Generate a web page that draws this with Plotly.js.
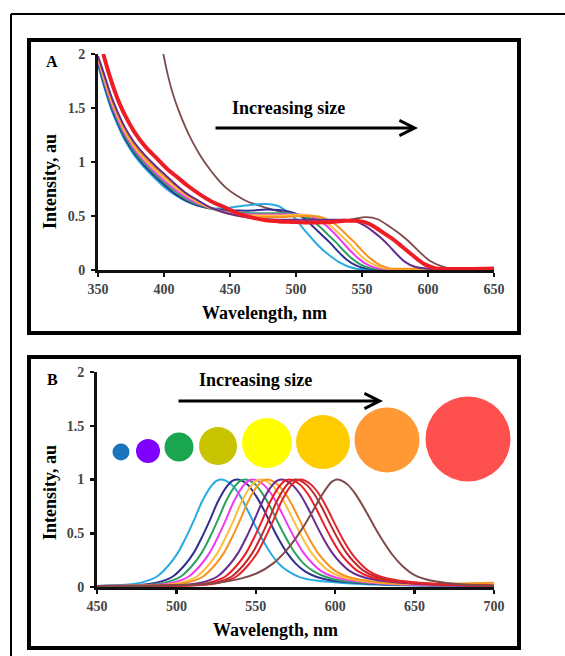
<!DOCTYPE html>
<html>
<head>
<meta charset="utf-8">
<script src="https://cdn.plot.ly/plotly-3.0.1.min.js"></script>
<style>html,body{margin:0;padding:0;background:#fff;}#chart{width:565px;height:656px;}</style>
</head>
<body>
<div id="chart"></div>
<script>
// ---------- Panel A: absorption spectra (wavelength nm, intensity au) ----------
const aCyanX = [350,355,360,365,370,377,385,393,401,409,417,425,435,445,457,467,477,487,494,500,505,510,515,520,526,533,540,547,560,650];
const aCyanY = [1.9,1.68,1.49,1.34,1.21,1.07,0.95,0.85,0.76,0.69,0.635,0.6,0.575,0.57,0.59,0.605,0.61,0.59,0.53,0.47,0.39,0.32,0.25,0.19,0.13,0.07,0.03,0.01,0.01,0.01];
const aNavyX = [350,355,360,365,370,377,385,393,401,409,417,425,435,445,457,467,477,487,495,502,508,514,520,526,532,538,545,553,565,650];
const aNavyY = [1.92,1.7,1.51,1.36,1.23,1.09,0.97,0.87,0.78,0.7,0.64,0.6,0.57,0.555,0.55,0.55,0.56,0.555,0.54,0.51,0.46,0.39,0.32,0.25,0.17,0.1,0.045,0.015,0.01,0.01];
const aGreenX = [350,355,360,365,370,377,385,393,401,409,417,425,435,445,457,467,477,487,497,505,512,518,524,530,536,542,549,557,570,650];
const aGreenY = [1.94,1.72,1.53,1.38,1.25,1.11,0.99,0.89,0.8,0.72,0.655,0.61,0.57,0.545,0.53,0.525,0.525,0.525,0.52,0.5,0.46,0.4,0.33,0.26,0.18,0.11,0.05,0.015,0.01,0.01];
const aMagentaX = [350,355,360,365,370,377,385,393,401,409,417,425,435,445,457,467,477,487,497,507,515,522,529,535,541,547,554,562,575,650];
const aMagentaY = [1.95,1.74,1.55,1.4,1.27,1.13,1.01,0.91,0.82,0.74,0.67,0.62,0.575,0.54,0.52,0.515,0.515,0.515,0.515,0.51,0.48,0.42,0.34,0.26,0.18,0.11,0.05,0.015,0.01,0.01];
const aGoldX = [350,355,360,365,370,377,385,393,401,409,417,425,435,445,457,467,477,487,497,507,514,521,528,534,540,546,552,559,567,580,650];
const aGoldY = [1.96,1.76,1.57,1.42,1.29,1.15,1.03,0.93,0.84,0.76,0.69,0.63,0.575,0.535,0.51,0.505,0.505,0.505,0.51,0.51,0.5,0.46,0.39,0.32,0.25,0.17,0.1,0.05,0.015,0.01,0.012];
const aOrangeX = [350,355,360,365,370,377,385,393,401,409,417,425,435,445,457,467,477,487,497,507,517,525,532,538,544,550,556,563,571,585,650];
const aOrangeY = [1.97,1.78,1.59,1.44,1.31,1.17,1.05,0.95,0.86,0.78,0.7,0.64,0.58,0.535,0.5,0.49,0.49,0.49,0.495,0.5,0.495,0.46,0.4,0.33,0.26,0.18,0.11,0.05,0.015,0.012,0.018];
const aPurpleX = [350,355,360,365,370,377,385,393,401,409,417,425,435,445,457,467,477,487,497,507,517,527,537,545,552,558,564,570,576,582,590,600,650];
const aPurpleY = [1.98,1.8,1.61,1.46,1.33,1.19,1.07,0.97,0.88,0.79,0.71,0.65,0.58,0.535,0.5,0.48,0.47,0.465,0.465,0.465,0.465,0.465,0.465,0.45,0.41,0.36,0.3,0.23,0.15,0.08,0.03,0.012,0.012];
const aRedX = [354,358,362,366,371,378,386,394,402,410,418,426,436,446,457,467,477,487,497,507,517,527,537,547,555,562,568,574,580,586,592,598,606,620,650];
const aRedY = [2.0,1.83,1.68,1.55,1.42,1.27,1.14,1.04,0.94,0.86,0.78,0.71,0.635,0.58,0.52,0.485,0.46,0.45,0.445,0.44,0.44,0.445,0.455,0.455,0.43,0.38,0.33,0.28,0.22,0.16,0.1,0.05,0.015,0.01,0.015];
const aBrownX = [399.5,403,407,411,416,421,427,433,440,447,455,464,474,485,497,510,520,533,543,553,562,571,578,584,590,596,602,609,616,630,650];
const aBrownY = [2.0,1.8,1.62,1.48,1.33,1.2,1.07,0.96,0.85,0.76,0.69,0.63,0.59,0.55,0.515,0.48,0.46,0.45,0.47,0.49,0.47,0.4,0.34,0.28,0.21,0.14,0.08,0.04,0.015,0.01,0.01];

// ---------- Panel B: emission spectra ----------
const bCyanX = [450,468,480,488,495,501,506,511,516,521,525,528,531,535,540,545,550,555,560,565,571,578,588,603,628,700];
const bCyanY = [0.01,0.02,0.05,0.1,0.2,0.32,0.46,0.62,0.79,0.92,0.985,1,0.99,0.95,0.85,0.71,0.56,0.42,0.3,0.21,0.14,0.09,0.06,0.04,0.02,0.01];
const bNavyX = [450,478,490,498,505,511,516,521,526,531,535,538,541,545,550,555,560,565,570,575,581,588,598,613,638,700];
const bNavyY = [0.01,0.02,0.05,0.1,0.2,0.32,0.46,0.62,0.79,0.92,0.985,1,0.99,0.95,0.85,0.72,0.57,0.43,0.31,0.22,0.145,0.095,0.06,0.04,0.02,0.01];
const bGreenX = [450,483,495,503,510,516,521,526,531,536,540,543,546,550,555,560,565,570,575,580,586,593,603,618,643,700];
const bGreenY = [0.01,0.02,0.05,0.1,0.2,0.32,0.46,0.62,0.79,0.92,0.985,1,0.99,0.95,0.85,0.72,0.57,0.43,0.31,0.22,0.15,0.1,0.06,0.04,0.02,0.01];
const bMagentaX = [450,488,500,508,515,521,526,531,536,541,545,548,551,555,560,565,570,575,580,585,591,598,608,623,648,700];
const bMagentaY = [0.01,0.02,0.05,0.1,0.2,0.32,0.46,0.62,0.79,0.92,0.985,1,0.99,0.95,0.86,0.73,0.58,0.44,0.32,0.23,0.15,0.1,0.065,0.04,0.02,0.012];
const bGoldX = [450,493,505,513,520,526,531,536,541,546,550,553,556,560,565,570,575,580,585,590,596,603,613,628,653,700];
const bGoldY = [0.01,0.02,0.05,0.1,0.2,0.32,0.46,0.62,0.79,0.92,0.985,1,0.99,0.95,0.86,0.73,0.58,0.44,0.32,0.23,0.15,0.1,0.065,0.04,0.025,0.02];
const bOrangeX = [450,497,509,517,524,530,535,540,545,550,554,557,560,564,569,574,579,584,589,594,600,607,617,632,657,700];
const bOrangeY = [0.01,0.02,0.05,0.1,0.2,0.32,0.46,0.62,0.79,0.92,0.985,1,0.99,0.95,0.86,0.73,0.58,0.44,0.32,0.23,0.15,0.1,0.065,0.04,0.03,0.04];
const bPurpleX = [450,506,518,526,533,539,544,549,554,559,563,566,569,573,578,583,588,593,598,603,609,616,626,641,666,700];
const bPurpleY = [0.01,0.02,0.05,0.1,0.2,0.32,0.46,0.62,0.79,0.92,0.985,1,0.99,0.95,0.86,0.73,0.58,0.44,0.32,0.23,0.15,0.1,0.065,0.04,0.02,0.01];
const bRedX = [450,511,523,531,538,544,549,554,559,564,568,571,574,578,583,588,593,598,603,608,614,621,631,646,671,700];
const bRedY = [0.01,0.02,0.05,0.1,0.2,0.32,0.46,0.62,0.79,0.92,0.985,1,0.99,0.95,0.86,0.73,0.58,0.44,0.32,0.23,0.15,0.1,0.065,0.04,0.02,0.01];
const bCrimsonX = [450,515,527,535,542,548,553,558,563,568,572,575,578,582,587,592,597,602,607,612,618,625,635,650,675,700];
const bCrimsonY = [0.01,0.02,0.05,0.1,0.2,0.32,0.46,0.62,0.79,0.92,0.985,1,0.99,0.95,0.86,0.73,0.58,0.44,0.32,0.23,0.15,0.1,0.065,0.04,0.02,0.015];
const bRed2X = [450,518,530,538,545,551,556,561,566,571,575,578,581,585,590,595,600,605,610,615,621,628,638,653,678,700];
const bRed2Y = [0.01,0.02,0.05,0.1,0.2,0.32,0.46,0.62,0.79,0.92,0.985,1,0.99,0.95,0.86,0.73,0.58,0.44,0.32,0.23,0.15,0.1,0.065,0.04,0.02,0.015];
const bBrownX = [450,520,541,551,561,568,574,580,586,591,596,598,601,604,608,613,618,624,630,636,642,650,660,675,700];
const bBrownY = [0.005,0.03,0.08,0.13,0.22,0.32,0.43,0.56,0.71,0.84,0.95,0.98,1,0.99,0.95,0.86,0.74,0.58,0.43,0.3,0.2,0.11,0.06,0.03,0.01];

const xTicksA = [350,400,450,500,550,600,650];
const xTicksB = [450,500,550,600,650,700];
const yTicks = [0,0.5,1,1.5,2];
const yTickText = ["0","0.5","1","1.5","2"];

// ---------- styles ----------
const C = {cyan:"#29abe2", navy:"#2e3192", green:"#2ca25f", magenta:"#f03cf0", gold:"#fbbf3c",
           orange:"#f7931e", purple:"#662d91", red:"#ee1c24", crimson:"#c1272d", red2:"#e0262c", brown:"#7d4b4b"};

function tr(x, y, color, width, xa, ya) {
  return {x: x, y: y, type: "scatter", mode: "lines", xaxis: xa, yaxis: ya,
          line: {color: color, width: width, shape: "spline", smoothing: 0.8}, hoverinfo: "skip"};
}
const traces = [
  tr(aBrownX, aBrownY, C.brown, 1.8, "x", "y"),
  tr(aCyanX, aCyanY, C.cyan, 2, "x", "y"),
  tr(aNavyX, aNavyY, C.navy, 2, "x", "y"),
  tr(aGreenX, aGreenY, C.green, 2, "x", "y"),
  tr(aMagentaX, aMagentaY, C.magenta, 2, "x", "y"),
  tr(aGoldX, aGoldY, C.gold, 2, "x", "y"),
  tr(aOrangeX, aOrangeY, C.orange, 2, "x", "y"),
  tr(aPurpleX, aPurpleY, C.purple, 2, "x", "y"),
  tr(aRedX, aRedY, C.red, 4, "x", "y"),

  tr(bCyanX, bCyanY, C.cyan, 2, "x2", "y2"),
  tr(bNavyX, bNavyY, C.navy, 2, "x2", "y2"),
  tr(bGreenX, bGreenY, C.green, 2, "x2", "y2"),
  tr(bMagentaX, bMagentaY, C.magenta, 2, "x2", "y2"),
  tr(bGoldX, bGoldY, C.gold, 2, "x2", "y2"),
  tr(bOrangeX, bOrangeY, C.orange, 2, "x2", "y2"),
  tr(bPurpleX, bPurpleY, C.purple, 2, "x2", "y2"),
  tr(bRedX, bRedY, C.red, 2, "x2", "y2"),
  tr(bCrimsonX, bCrimsonY, C.crimson, 2, "x2", "y2"),
  tr(bRed2X, bRed2Y, C.red2, 2, "x2", "y2"),
  tr(bBrownX, bBrownY, C.brown, 2, "x2", "y2")
];

const W = 565, H = 656;
const px = v => v / W;
const py = v => 1 - v / H;
const SERIF = "Liberation Serif, Times New Roman, serif";
const tickFont = {family: SERIF, size: 14, color: "#444", weight: "bold"};

function xAxis(domain, range, ticks, anchor) {
  return {domain: domain, range: range, tickmode: "array", tickvals: ticks, anchor: anchor,
    showline: true, linewidth: 3, linecolor: "#111", ticks: "outside", ticklen: 4, tickwidth: 2.5,
    tickcolor: "#111", tickfont: tickFont, showgrid: false, zeroline: false, fixedrange: true,
    ticklabelstandoff: 0};
}
function yAxis(domain, anchor) {
  return {domain: domain, range: [0, 2], tickmode: "array", tickvals: yTicks, ticktext: yTickText,
    anchor: anchor, showline: true, linewidth: 3, linecolor: "#111", ticks: "outside", ticklen: 4,
    tickwidth: 2.5, tickcolor: "#111", tickfont: tickFont, showgrid: false, zeroline: false,
    fixedrange: true, ticklabelstandoff: 3};
}

const circles = [
  [121,452,17,"#1b75bc"], [148,451,24,"#8000ff"], [179,447,29,"#19a64f"], [218,446,38,"#c8c400"],
  [267,443,50,"#ffff00"], [323,442,54,"#ffcc00"], [387,440,65,"#ff9933"], [468,439,85,"#ff5050"]
];
const shapes = [
  {type:"line", xref:"paper", yref:"paper", x0:px(11), x1:1.01, y0:py(14), y1:py(14), line:{color:"#000", width:2}},
  {type:"line", xref:"paper", yref:"paper", x0:px(11), x1:px(11), y0:py(14), y1:-0.01, line:{color:"#000", width:2}},
  {type:"rect", xref:"paper", yref:"paper", x0:px(29), x1:px(519), y0:py(333), y1:py(40), line:{color:"#000", width:4}},
  {type:"rect", xref:"paper", yref:"paper", x0:px(29), x1:px(519), y0:py(648), y1:py(357), line:{color:"#000", width:4}}
];
circles.forEach(c => {
  const r = c[2] / 2;
  shapes.push({type:"circle", xref:"paper", yref:"paper", x0:px(c[0]-r), x1:px(c[0]+r),
    y0:py(c[1]+r), y1:py(c[1]-r), fillcolor:c[3], line:{width:0}, layer:"above"});
});

function txt(text, x, y, size, angle) {
  return {text: text, xref:"paper", yref:"paper", x: px(x), y: py(y), xanchor:"center", yanchor:"middle",
    showarrow:false, textangle: angle || 0, font:{family: SERIF, size: size, color:"#000", weight:"bold"}};
}
function arrow(x0, x1, y) {
  return {text:"", xref:"paper", yref:"paper", x: px(x1), y: py(y), ax: x0 - x1, ay: 0,
    showarrow:true, arrowhead:5, arrowsize:1, arrowwidth:3, arrowcolor:"#000", standoff:0};
}
const annotations = [
  txt("A", 52, 62, 16), txt("B", 52, 379, 16),
  txt("Increasing size", 288, 108, 18), arrow(214, 418, 128),
  txt("Increasing size", 255, 380, 18), arrow(177, 383, 401),
  txt("Wavelength, nm", 264, 313, 18), txt("Wavelength, nm", 275, 630, 18),
  txt("Intensity, au", 50, 182, 18, -90), txt("Intensity, au", 50, 493, 18, -90)
];

const layout = {
  width: W, height: H, margin: {l:0, r:0, t:0, b:0}, showlegend: false,
  paper_bgcolor: "#fff", plot_bgcolor: "#fff",
  xaxis: xAxis([px(98), px(494)], [350, 650], xTicksA, "y"),
  yaxis: yAxis([py(270), py(54)], "x"),
  xaxis2: xAxis([px(97), px(494)], [450, 700], xTicksB, "y2"),
  yaxis2: yAxis([py(587), py(372)], "x2"),
  shapes: shapes, annotations: annotations
};
Plotly.newPlot("chart", traces, layout, {displayModeBar: false, staticPlot: true});
</script>
</body>
</html>
